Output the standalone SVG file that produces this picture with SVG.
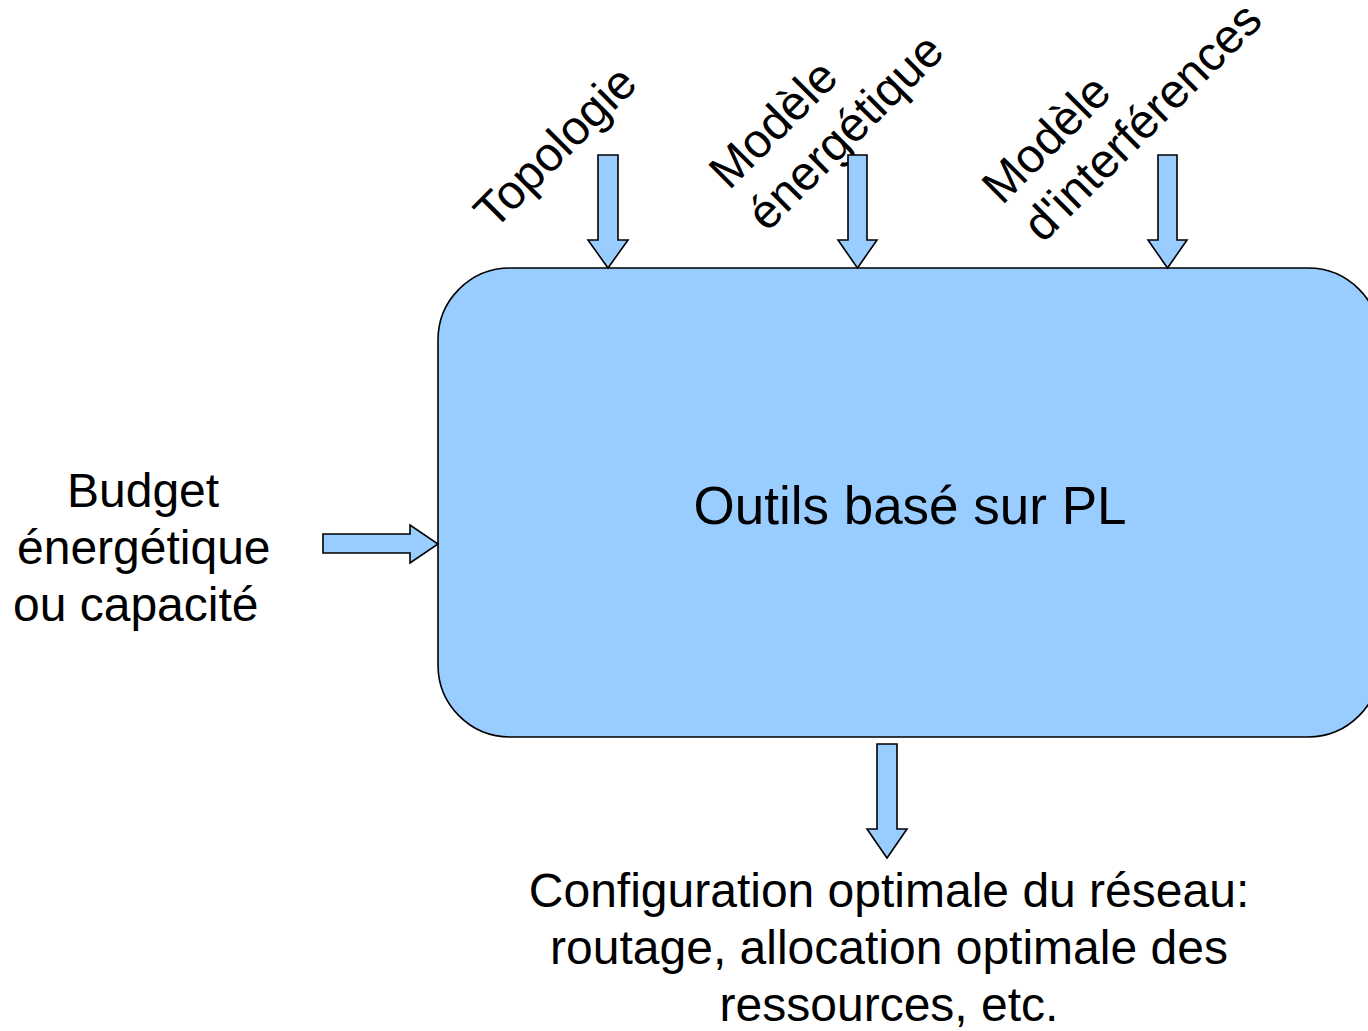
<svg xmlns="http://www.w3.org/2000/svg" width="1368" height="1031" viewBox="0 0 1368 1031">
  <style>
    .shape { fill: #99ccff; stroke: #000; stroke-width: 1.6; stroke-linejoin: miter; }
    .lbl { font-family: "Liberation Sans", Arial, sans-serif; font-size: 48px; fill: #000; }
    .big { font-size: 53px; }
  </style>
  <rect width="1368" height="1031" fill="#fff"/>

  <!-- central tool block -->
  <g id="outils">
    <rect class="shape" x="438" y="268" width="942" height="469" rx="72" ry="72"/>
    <text class="lbl big" x="910" y="524" text-anchor="middle">Outils basé sur PL</text>
  </g>

  <!-- inputs and outputs -->
  <g id="in-topologie">
    <text class="lbl" transform="translate(494,231) rotate(-45)">Topologie</text>
  </g>
  <g id="in-energie">
    <text class="lbl" transform="translate(729,191) rotate(-45)">Modèle</text>
    <text class="lbl" transform="translate(767,233) rotate(-45)">énergétique</text>
  </g>
  <g id="in-interferences">
    <text class="lbl" transform="translate(1002,206) rotate(-45)">Modèle</text>
    <text class="lbl" transform="translate(1043,244) rotate(-45)">d'interférences</text>
  </g>
  <g id="in-budget">
    <text class="lbl" x="67" y="507">Budget</text>
    <text class="lbl" x="17" y="564">énergétique</text>
    <text class="lbl" x="13" y="621">ou capacité</text>
  </g>
  <g id="out-configuration">
    <text class="lbl" x="889" y="907" text-anchor="middle">Configuration optimale du réseau:</text>
    <text class="lbl" x="889" y="964" text-anchor="middle">routage, allocation optimale des</text>
    <text class="lbl" x="889" y="1021" text-anchor="middle">ressources, etc.</text>
  </g>

  <!-- block arrows -->
  <g id="connectors">
    <polygon class="shape" points="598,155 618,155 618,240 628,240 608,268 588,240 598,240"/>
    <polygon class="shape" points="848,155 867,155 867,240 877,240 857.5,268 838,240 848,240"/>
    <polygon class="shape" points="1158,155 1177,155 1177,240 1187,240 1167.5,268 1148,240 1158,240"/>
    <polygon class="shape" points="323,534 410,534 410,525 438,544 410,563 410,553 323,553"/>
    <polygon class="shape" points="877,744 897,744 897,829 907,829 887,858 867,829 877,829"/>
  </g>
</svg>
